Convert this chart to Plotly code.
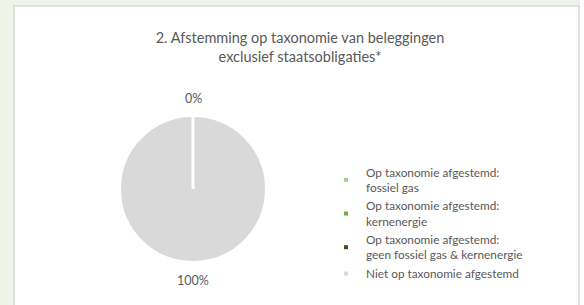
import math
import plotly.graph_objects as go

categories = [
    "Op taxonomie afgestemd:<br>fossiel gas",
    "Op taxonomie afgestemd:<br>kernenergie",
    "Op taxonomie afgestemd:<br>geen fossiel gas & kernenergie",
    "Niet op taxonomie afgestemd",
]
values = [0, 0, 0, 100]
colors = ["#A9D18E", "#70AD47", "#375623", "#D9D9D9"]
title_text = "2. Afstemming op taxonomie van beleggingen<br>exclusief staatsobligaties*"

W, H = 584, 305
cx, cy, r = 193, 189, 73
FONT = "Lato, sans-serif"
TXT = "#595959"

fig = go.Figure()
fig.add_trace(go.Pie(
    labels=categories,
    values=values,
    marker=dict(colors=colors, line=dict(color="white", width=2)),
    sort=False,
    direction="clockwise",
    rotation=0,
    textinfo="none",
    showlegend=False,
    domain=dict(x=[(cx - r) / W, (cx + r) / W], y=[1 - (cy + r) / H, 1 - (cy - r) / H]),
    hoverinfo="label+percent",
))

# legend entries (small square symbols like the original)
for name, col in zip(categories, colors):
    fig.add_trace(go.Scatter(
        x=[None], y=[None], mode="markers", name=name,
        marker=dict(symbol="square", size=4, color=col),
        showlegend=True, hoverinfo="skip",
    ))

# percentage labels outside the pie, positioned from the data
total = sum(values)
annotations = []
seen = set()
cum = 0.0
for v in values:
    frac = (cum + v / 2) / total
    cum += v
    label = f"{v / total:.0%}"
    ang = 2 * math.pi * frac
    dist = r + 18
    px = cx + dist * math.sin(ang)
    py = cy - dist * math.cos(ang)
    key = (round(px), round(py))
    if key in seen:
        continue
    seen.add(key)
    annotations.append(dict(
        text=label, x=px / W, y=1 - py / H, xref="paper", yref="paper",
        xanchor="center", yanchor="middle", showarrow=False,
        font=dict(family=FONT, size=12.5, color=TXT),
    ))

fig.update_layout(
    width=W, height=H,
    margin=dict(l=0, r=0, t=0, b=0),
    paper_bgcolor="#EEF4E8",
    plot_bgcolor="rgba(0,0,0,0)",
    font=dict(family=FONT, color=TXT),
    xaxis=dict(visible=False),
    yaxis=dict(visible=False),
    title=dict(text=title_text, x=300 / W, xanchor="center", y=1 - 43 / H, yanchor="top",
               font=dict(family=FONT, size=14.5, color=TXT)),
    legend=dict(x=326 / W, y=1 - 158 / H, xanchor="left", yanchor="top",
                font=dict(family=FONT, size=11.8, color=TXT),
                bgcolor="rgba(0,0,0,0)", itemsizing="trace", tracegroupgap=0),
    annotations=annotations,
    shapes=[
        dict(type="rect", xref="paper", yref="paper", x0=580 / W, x1=1.01, y0=-0.05, y1=1.01,
             fillcolor="white", line=dict(width=0), layer="below"),
        dict(type="rect", xref="paper", yref="paper", x0=14 / W, x1=579 / W, y0=-0.05, y1=1 - 6 / H,
             fillcolor="white", line=dict(color="#D9D9D9", width=1.5), layer="below"),
        dict(type="line", xref="paper", yref="paper", x0=cx / W, x1=cx / W, y0=1 - cy / H, y1=1 - (cy - r - 1) / H,
             line=dict(color="white", width=3), layer="above"),
    ],
)

fig.write_html("out.html", config={"displayModeBar": False},
               post_script="document.body.style.margin='0';")
